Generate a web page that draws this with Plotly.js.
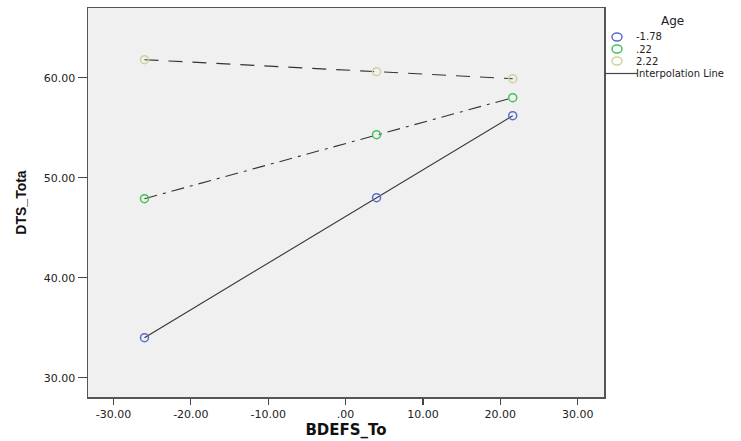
<!DOCTYPE html>
<html>
<head>
<meta charset="utf-8">
<script src="https://cdn.plot.ly/plotly-3.0.1.min.js"></script>
<style>html,body{margin:0;padding:0;background:#fff;}#chart{width:741px;height:441px;}</style>
</head>
<body>
<div id="chart"></div>
<script>
// ---- data ----
var bdefs = [-26.0, 4.0, 21.6];
var ageLabels = ['-1.78', '.22', '2.22'];
var dtsLow = [34.0, 48.0, 56.2];      // Age -1.78
var dtsMid = [47.9, 54.3, 58.0];      // Age .22
var dtsHigh = [61.8, 60.6, 59.9];     // Age 2.22
var xTickVals = [-30, -20, -10, 0, 10, 20, 30];
var xTickText = ['-30.00', '-20.00', '-10.00', '.00', '10.00', '20.00', '30.00'];
var yTickVals = [30, 40, 50, 60];
var yTickText = ['30.00', '40.00', '50.00', '60.00'];
var legendTitle = 'Age';
var lineLabel = 'Interpolation Line';

// ---- styling ----
var series = [dtsLow, dtsMid, dtsHigh];
var colors = ['#5b6dcc', '#3ec45a', '#d4d09c'];
var dashes = ['solid', '13px,6px,3px,6px', '14px,10px'];
var lineColor = '#333333';

var traces = [];
series.forEach(function (ys, i) {
  traces.push({
    x: bdefs, y: ys, type: 'scatter', mode: 'lines',
    line: {color: lineColor, width: 1.1, dash: dashes[i]},
    showlegend: false, hoverinfo: 'skip'
  });
});
series.forEach(function (ys, i) {
  traces.push({
    x: bdefs, y: ys, type: 'scatter', mode: 'markers', name: ageLabels[i],
    marker: {symbol: 'circle-open', size: 8, color: colors[i], line: {width: 1.5, color: colors[i]}},
    showlegend: false
  });
});

// ---- custom legend (layout geometry) ----
var M = {l: 88, r: 137, t: 8, b: 44};
var W = 741, H = 441;
var pw = W - M.l - M.r, ph = H - M.t - M.b;
function px2x(px) { return (px - M.l) / pw; }
function py2y(py) { return (H - M.b - py) / ph; }

var txtFont = {family: 'DejaVu Sans, Arial, sans-serif', size: 10, color: '#222'};
var annotations = [{
  xref: 'paper', yref: 'paper', x: px2x(672), y: py2y(21),
  text: legendTitle, showarrow: false, xanchor: 'center', yanchor: 'middle',
  font: {family: 'DejaVu Sans, Arial, sans-serif', size: 12, color: '#222'}
}];
var shapes = [];
var rowY = [37, 49, 61];
ageLabels.forEach(function (lab, i) {
  annotations.push({
    xref: 'paper', yref: 'paper', x: px2x(634), y: py2y(rowY[i]),
    text: lab, showarrow: false, xanchor: 'left', yanchor: 'middle', font: txtFont
  });
  shapes.push({
    type: 'circle', xref: 'paper', yref: 'paper',
    xsizemode: 'pixel', ysizemode: 'pixel',
    xanchor: px2x(617), yanchor: py2y(rowY[i]),
    x0: -5, x1: 5, y0: -4, y1: 4,
    line: {color: colors[i], width: 1.5}, fillcolor: 'rgba(0,0,0,0)'
  });
});
annotations.push({
  xref: 'paper', yref: 'paper', x: px2x(634), y: py2y(73),
  text: lineLabel, showarrow: false, xanchor: 'left', yanchor: 'middle', font: txtFont
});
shapes.push({
  type: 'line', xref: 'paper', yref: 'paper',
  x0: px2x(605), x1: px2x(637), y0: py2y(73.5), y1: py2y(73.5),
  line: {color: '#444', width: 1.2}
});

var tickFont = {family: 'DejaVu Sans, Arial, sans-serif', size: 11, color: '#222'};
var layout = {
  width: W, height: H,
  margin: M,
  paper_bgcolor: '#ffffff',
  plot_bgcolor: '#f0f0f0',
  showlegend: false,
  xaxis: {
    range: [-33.3, 33.4], tickvals: xTickVals, ticktext: xTickText,
    ticks: 'outside', ticklen: 6, tickwidth: 1.2, tickcolor: '#444',
    showline: true, linecolor: '#555', linewidth: 1.5, mirror: true,
    showgrid: false, zeroline: false, tickfont: tickFont,
    title: {text: 'BDEFS_To', standoff: 0,
      font: {family: 'DejaVu Sans, Arial, sans-serif', size: 15, weight: 'bold', color: '#111'}}
  },
  yaxis: {
    range: [28.07, 66.97], tickvals: yTickVals, ticktext: yTickText,
    ticks: 'outside', ticklen: 9, tickwidth: 1.2, tickcolor: '#444',
    showline: true, linecolor: '#555', linewidth: 1.5, mirror: true,
    showgrid: false, zeroline: false, tickfont: tickFont,
    title: {text: 'DTS_Tota', standoff: 14,
      font: {family: 'Liberation Sans, Arial, sans-serif', size: 14, weight: 'bold', color: '#111'}}
  },
  annotations: annotations,
  shapes: shapes
};

Plotly.newPlot('chart', traces, layout, {displayModeBar: false, staticPlot: true});
</script>
</body>
</html>
